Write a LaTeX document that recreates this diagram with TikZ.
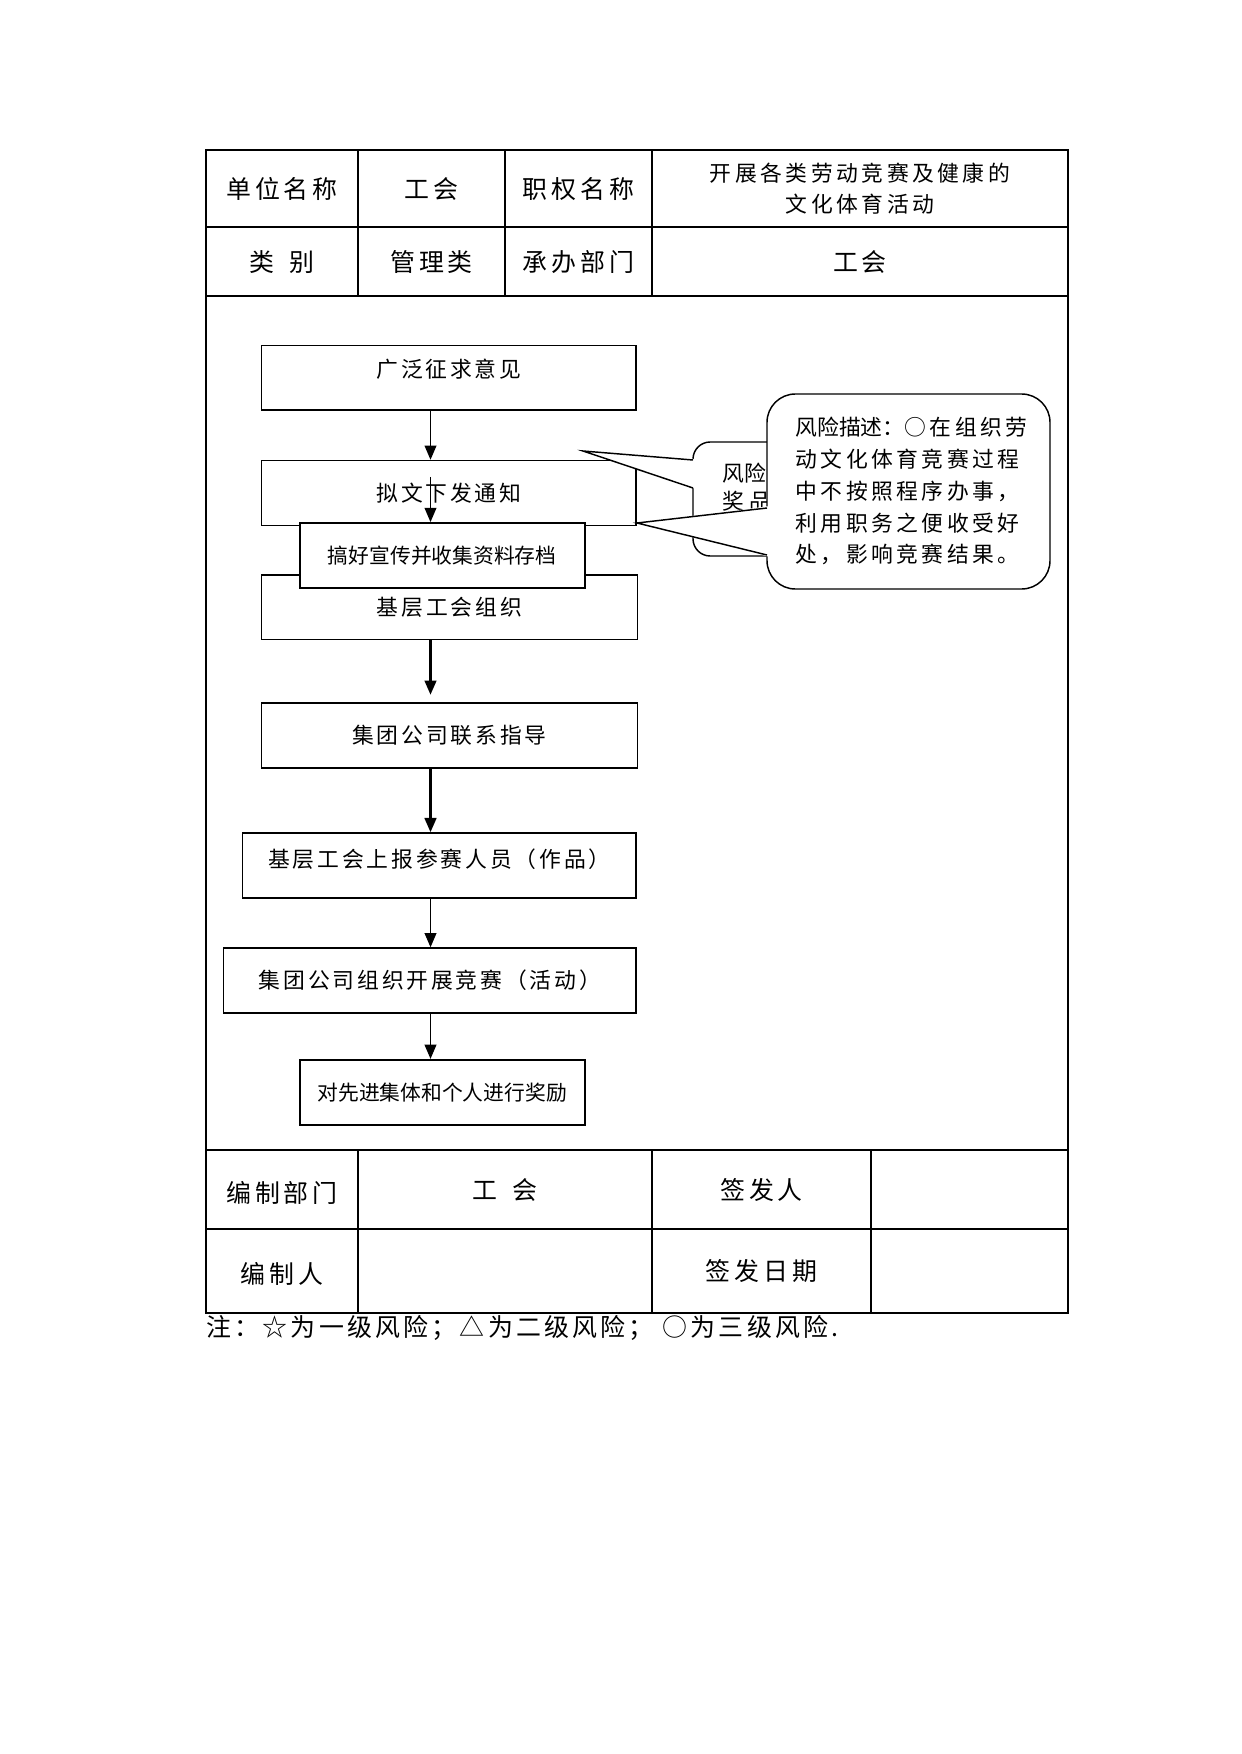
\documentclass[tikz,border=0pt]{standalone}
\usepackage{fontspec}
\setmainfont{Noto Sans CJK SC}
\newfontfamily\cjkwide[LetterSpace=16]{Noto Sans CJK SC}
\newfontfamily\cjkflow[LetterSpace=13]{Noto Sans CJK SC}
\usetikzlibrary{arrows.meta}

\tikzset{
    cell/.style={inner sep=0pt, font=\cjkwide\fontsize{12pt}{14pt}\selectfont},
    flowbox/.style={draw, fill=white, line width=0.8pt, inner sep=0pt, font=\cjkflow\fontsize{10.5pt}{13pt}\selectfont},
    flowboxb/.style={flowbox, line width=1.1pt, font=\rmfamily\fontsize{10pt}{12pt}\selectfont},
    arr/.style={line width=0.6pt, -{Triangle[length=2.4mm,width=2mm]}},
    callout/.style={draw, fill=white, line width=0.7pt},
}

\begin{document}
\begin{tikzpicture}[x=0.16922mm, y=-0.16922mm]
        \def\unitpx{0.16922mm}
        \fill[white, use as bounding box] (0,0) rectangle (1241,1754);

        % table frame
        \draw[line width=0.5pt] (206,150) rectangle (1068,1313);
        \draw[line width=0.5pt] (206,227) -- (1068,227);
        \draw[line width=0.5pt] (206,296) -- (1068,296);
        \draw[line width=0.5pt] (206,1150) -- (1068,1150);
        \draw[line width=0.5pt] (206,1229) -- (1068,1229);
        \draw[line width=0.5pt] (358,150) -- (358,296);
        \draw[line width=0.5pt] (505,150) -- (505,296);
        \draw[line width=0.5pt] (652,150) -- (652,296);
        \draw[line width=0.5pt] (358,1150) -- (358,1313);
        \draw[line width=0.5pt] (652,1150) -- (652,1313);
        \draw[line width=0.5pt] (871,1150) -- (871,1313);

        % header cells
        \node[cell] (danwei) at (282,189) {单位名称};
        \node[cell] (gonghui) at (431.5,189) {工会};
        \node[cell] (zhiquan) at (578.5,189) {职权名称};
        \node[cell, align=center, font=\cjkwide\fontsize{10.5pt}{15pt}\selectfont] (mingcheng) at (860,189) {开展各类劳动竞赛及健康的\\文化体育活动};
        \node[cell] (leibie) at (282,262) {类\hspace{2.4mm}别};
        \node[cell] (guanli) at (431.5,262) {管理类};
        \node[cell] (chengban) at (578.5,262) {承办部门};
        \node[cell] (bumen) at (860,262) {工会};

        % footer cells
        \node[cell] (bianzhibm) at (282,1193) {编制部门};
        \node[cell] (gonghuib) at (505,1190) {工\hspace{2.4mm}会};
        \node[cell] (qianfa) at (761.5,1190) {签发人};
        \node[cell] (bianzhiren) at (282,1274) {编制人};
        \node[cell] (riqi) at (761.5,1271) {签发日期};
        \node[cell, anchor=west, font=\cjkflow\fontsize{12pt}{14pt}\selectfont] (zhu) at (206,1328) {注：☆为一级风险；△为二级风险；\ ○为三级风险.};

        % flow boxes
        \node[flowbox, minimum width=374.5*\unitpx, minimum height=64.8*\unitpx, text depth=3.2mm] (yijian) at (448.9,377.9) {广泛征求意见};
        \node[flowbox, minimum width=374.5*\unitpx, minimum height=64.8*\unitpx] (tongzhi) at (448.9,493) {拟文下发通知};
        \node[flowbox, minimum width=375.7*\unitpx, minimum height=64.8*\unitpx] (zuzhi) at (449.5,607.1) {基层工会组织};
        \node[flowbox, minimum width=375.7*\unitpx, minimum height=64.8*\unitpx] (zhidao) at (449.5,735.6) {集团公司联系指导};
        \node[flowbox, minimum width=393.5*\unitpx, minimum height=64.8*\unitpx, text depth=2.4mm] (shangbao) at (439.4,865.4) {基层工会上报参赛人员（作品）};
        \node[flowbox, minimum width=412.5*\unitpx, minimum height=64.8*\unitpx] (jingsai) at (429.9,980.5) {集团公司组织开展竞赛（活动）};
        \node[flowboxb, minimum width=285.1*\unitpx, minimum height=64.8*\unitpx] (jiangli) at (442.2,1092.4) {对先进集体和个人进行奖励};

        % callout behind
        \filldraw[callout, rounded corners=2.9mm] (693,442) rectangle (1000,556);
        \fill[white] (583,451) -- (696,459) -- (696,489) -- cycle;
        \draw[line width=0.7pt] (693,460) -- (583,451) -- (693,488);
        \node[anchor=west, inner sep=0pt, align=left, font=\fontsize{10.5pt}{13.4pt}\selectfont] (fxa) at (722,487) {风险\\奖 品};

        % callout in front
        \filldraw[callout, rounded corners=4.8mm] (767,394) rectangle (1050,589);
        \fill[white] (637,523) -- (770,506) -- (770,557) -- cycle;
        \draw[line width=0.7pt] (767,508) -- (637,523) -- (767,555);
        \node[anchor=north west, inner sep=0pt, align=left, font=\cjkwide\fontsize{10.5pt}{15.3pt}\selectfont] (fxb) at (795,417) {{\rmfamily 风险描述：}○在组织劳\\动文化体育竞赛过程\\中不按照程序办事，\\利用职务之便收受好\\处，影响竞赛结果。};

        \node[flowboxb, minimum width=285.1*\unitpx, minimum height=64.8*\unitpx] (xuanchuan) at (442.2,555.6) {搞好宣传并收集资料存档};

        % arrows
        \coordinate (ax) at (430.5,0);
        \coordinate (tzarr) at (430.5,477);
        \draw[arr] (yijian.south -| ax) -- (tongzhi.north -| ax);
        \draw[arr] (tzarr) -- (xuanchuan.north -| ax);
        \draw[arr, line width=1pt, shorten >=1.3mm] (zuzhi.south -| ax) -- (zhidao.north -| ax);
        \draw[arr, line width=1pt] (zhidao.south -| ax) -- (shangbao.north -| ax);
        \draw[arr] (shangbao.south -| ax) -- (jingsai.north -| ax);
        \draw[arr] (jingsai.south -| ax) -- (jiangli.north -| ax);

\end{tikzpicture}
\end{document}
